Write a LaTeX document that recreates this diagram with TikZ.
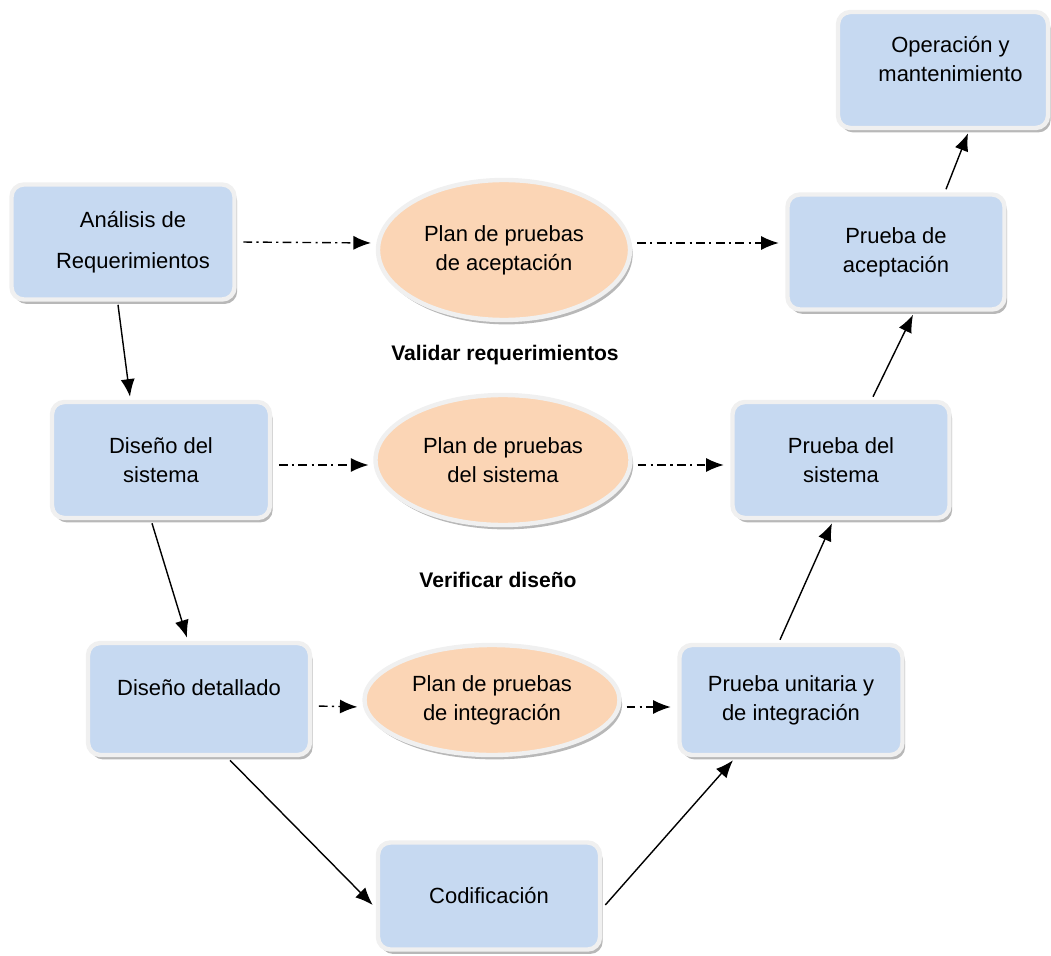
\documentclass[tikz,border=0pt]{standalone}
\usepackage{fontspec}
\setmainfont{Liberation Sans}
\usepackage{xcolor}
\definecolor{boxblue}{RGB}{198,217,241}
\definecolor{planpeach}{RGB}{251,213,181}
\usetikzlibrary{shapes.geometric, arrows.meta, shadows}

\begin{document}
\begin{tikzpicture}[
  phase/.style={rectangle, rounded corners=7pt, draw=gray!12, line width=2.5pt, fill=boxblue, minimum width=4.3cm, minimum height=2.25cm, align=center, outer sep=3pt, font=\fontsize{12.5}{16.5}\selectfont, drop shadow={shadow xshift=1.5pt, shadow yshift=-2.5pt, fill=gray!70, opacity=0.8}},
  plan/.style={ellipse, draw=gray!12, line width=2.5pt, fill=planpeach, align=center, outer sep=2pt, font=\fontsize{12.5}{16.5}\selectfont, drop shadow={shadow xshift=1.5pt, shadow yshift=-2.5pt, fill=gray!70, opacity=0.8}},
  level/.style={font=\bfseries\fontsize{12}{14}\selectfont},
  flow/.style={-{Latex[length=10pt,width=8pt]}, line width=0.8pt},
  check/.style={-{Latex[length=10pt,width=8pt]}, line width=0.8pt, dash pattern=on 5pt off 2.5pt on 1.2pt off 2.5pt, shorten <=2pt, shorten >=2pt}
]
\useasboundingbox (0,0) rectangle (21.02,-19.12);

% Nodes
\node[phase, minimum width=4.46cm, minimum height=2.3cm] (analisis) at (2.46,-4.84) {\hspace*{0.4cm}Análisis de\\[7pt]\hspace*{0.4cm}Requerimientos};
\node[plan, minimum width=5.04cm, minimum height=2.8cm] (planacep) at (10.08,-5.0) {Plan de pruebas\\de aceptación};
\node[phase, minimum width=4.34cm, minimum height=2.3cm] (pruebaacep) at (17.92,-5.04) {Prueba de\\aceptación};
\node[phase, minimum width=4.2cm, minimum height=2.32cm] (operacion) at (18.86,-1.4) {\hspace*{0.3cm}Operación y\\\hspace*{0.3cm}mantenimiento\\[-4pt]\mbox{}};
\node[level] (validar) at (10.1,-7.1) {Validar requerimientos};

\node[phase, minimum width=4.36cm, minimum height=2.32cm] (disenosis) at (3.22,-9.2) {Diseño del\\sistema};
\node[plan, minimum width=5.1cm, minimum height=2.6cm] (plansis) at (10.06,-9.2) {Plan de pruebas\\del sistema};
\node[phase, minimum width=4.34cm, minimum height=2.32cm] (pruebasis) at (16.82,-9.2) {Prueba del\\sistema};
\node[level] (verificar) at (9.96,-11.6) {Verificar diseño};

\node[phase, minimum width=4.44cm, minimum height=2.24cm] (disenodet) at (3.98,-13.98) {Diseño detallado\\[-4pt]\mbox{}};
\node[plan, minimum width=5.1cm, minimum height=2.2cm] (planint) at (9.84,-14.0) {Plan de pruebas\\de integración};
\node[phase, minimum width=4.46cm, minimum height=2.2cm] (pruebauni) at (15.82,-14.0) {Prueba unitaria y\\de integración};

\node[phase, minimum width=4.44cm, minimum height=2.14cm] (codif) at (9.78,-17.92) {Codificación};

% Descending and ascending branches
\draw[flow] ([xshift=-0.1cm]analisis.south) -- ([xshift=-0.62cm]disenosis.north);
\draw[flow] ([xshift=-0.18cm]disenosis.south) -- ([xshift=-0.24cm]disenodet.north);
\draw[flow] ([xshift=0.62cm]disenodet.south) -- ([yshift=-0.18cm]codif.west);
\draw[flow] ([yshift=-0.18cm]codif.east) -- ([xshift=-1.16cm]pruebauni.south);
\draw[flow] ([xshift=-0.22cm]pruebauni.north) -- ([xshift=-0.18cm]pruebasis.south);
\draw[flow] ([xshift=0.64cm]pruebasis.north) -- ([xshift=0.34cm]pruebaacep.south);
\draw[flow] ([xshift=1.0cm]pruebaacep.north) -- ([xshift=0.5cm]operacion.south);

% Test plans
\draw[check] (analisis.east) -- ([yshift=0.14cm]planacep.west);
\draw[check] ([yshift=0.14cm]planacep.east) -- ([yshift=0.18cm]pruebaacep.west);
\draw[check] ([yshift=-0.1cm]disenosis.east) -- ([yshift=-0.1cm]plansis.west);
\draw[check] ([yshift=-0.1cm]plansis.east) -- ([yshift=-0.1cm]pruebasis.west);
\draw[check] ([yshift=-0.14cm]disenodet.east) -- ([yshift=-0.14cm]planint.west);
\draw[check] ([yshift=-0.14cm]planint.east) -- ([yshift=-0.14cm]pruebauni.west);

\end{tikzpicture}
\end{document}
